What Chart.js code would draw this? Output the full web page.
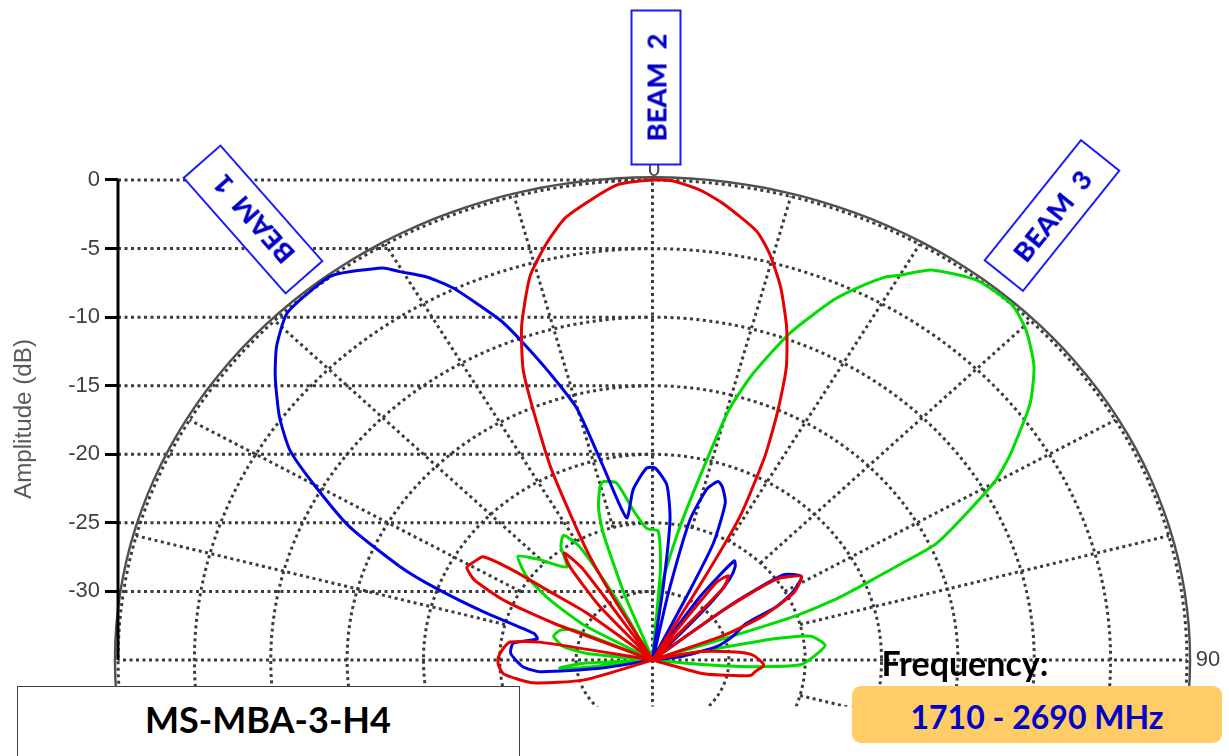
<!DOCTYPE html>
<html>
<head>
<meta charset="utf-8">
<script src="https://cdn.jsdelivr.net/npm/chart.js@4.4.1/dist/chart.umd.min.js"></script>
<style>
html,body{margin:0;padding:0;background:#fff;overflow:hidden;}
#stage{position:relative;width:1229px;height:756px;overflow:hidden;background:#fff;}
#chart{position:absolute;left:0;top:0;}
.lbl{position:absolute;display:flex;align-items:center;justify-content:center;white-space:pre;line-height:normal;}
.ax{font-family:"Liberation Sans",Arial,sans-serif;color:#404040;}
.beam{box-sizing:border-box;width:156px;height:51px;border:2.5px solid #1a1aff;background:#fff;color:#0000c8;font-family:Lato,sans-serif;font-weight:900;}
.bold{font-family:Lato,sans-serif;font-weight:bold;}
</style>
</head>
<body>
<div id="stage">
<canvas id="chart" width="1229" height="756"></canvas>
<div class="lbl ax" id="ytitle" data-fit="160" style="left:-77px;top:404px;width:200px;height:30px;font-size:24px;color:#595959;transform:rotate(-90deg);">Amplitude (dB)</div>
<div class="lbl ax" style="left:634px;top:154px;width:40px;height:30px;font-size:22px;">0</div>
<div class="lbl ax" style="left:1191px;top:644px;width:34px;height:30px;font-size:22px;">90</div>
<div class="lbl beam" data-fit="108" style="left:174.5px;top:194px;transform:rotate(-131.4deg);">BEAM  1</div>
<div class="lbl beam" data-fit="108" style="left:577.5px;top:62px;transform:rotate(-90deg);">BEAM  2</div>
<div class="lbl beam" data-fit="108" style="left:973.5px;top:190px;transform:rotate(-51.3deg);">BEAM  3</div>
<div style="position:absolute;left:17px;top:686px;width:503px;height:90px;box-sizing:border-box;border:1.5px solid #404040;background:#fff;"></div>
<div class="lbl bold" data-fit="246" style="left:118px;top:699px;width:300px;height:40px;color:#000;">MS-MBA-3-H4</div>
<div class="lbl bold" data-fit="167" style="left:865px;top:642px;width:200px;height:40px;color:#000;">Frequency:</div>
<div style="position:absolute;left:852px;top:686px;width:370px;height:57px;border-radius:9px;background:#ffcc66;"></div>
<div class="lbl bold" data-fit="253" style="left:887px;top:696px;width:300px;height:40px;color:#0000c8;">1710 - 2690 MHz</div>
</div>
<script>
// ---- data (angle in degrees, relative amplitude in dB) ----
const FLOOR_DB = -35;
const beam1Angles = [-106,-100,-96.6,-93.3,-87,-82.4,-78.5,-76,-72.4,-69.6,-67.6,-63.9,-59.9,-57.2,-54,-50.1,-47.1,-43.5,-40,-36.7,-31.7,-30.3,-27.9,-25.7,-21.9,-20.1,-17.8,-15.1,-12.9,-9.3,-5.8,-1.6,0.7,4.2,6.4,7.5,10,12,13.5,16,18.3,20,22.6,25.1,25.8,28,32,34,36.5,38.5,40.5,42.3,44,47,50,52,54.1,58,61.5,64.4,66.5,72,77,82,86];
const beam1Gain = [-35,-31.5,-27.6,-26.5,-25.7,-25.8,-27.3,-27,-23.4,-19.7,-17.1,-12.9,-9.3,-6.75,-4.8,-2.8,-1.4,-0.2,0,0,-1.4,-2.2,-3.4,-4.9,-8.3,-10.4,-13.05,-16,-20.5,-24.5,-22.5,-21,-21,-22.2,-24.7,-29.6,-35,-30,-24.5,-22,-21.3,-21.6,-22.6,-25.6,-29.9,-35,-35,-29.4,-26,-26.3,-27.2,-29.1,-33,-35,-35,-28.3,-24.4,-23.5,-24.5,-26,-28.3,-29.5,-30.7,-33,-35];
const beam2Angles = [-115,-108,-102,-96,-92,-89,-85,-82,-80,-77,-72,-67.5,-66,-63.5,-61,-58.5,-55.8,-54.5,-53.5,-51.5,-49,-44,-41.5,-38.5,-36.5,-34.5,-32,-29.5,-28.3,-25.5,-23.3,-21.8,-19.4,-16,-12.8,-9.9,-3.9,0,2.2,5.2,7.9,12.3,14.5,17.1,19.9,22.3,24.2,25.6,26.5,28.7,29.6,31,34,36.5,39,41.5,45,48,52,54,58,62,66,69,72,76,79,84,87,93,97,100,104,107,111];
const beam2Gain = [-35,-30.3,-27,-25.2,-24.9,-24.9,-25.2,-25.6,-27.5,-35,-35,-28,-24.5,-22,-21.1,-21.3,-21.6,-23.5,-26.5,-29.5,-35,-35,-29.8,-26.3,-25.3,-27,-35,-30,-25.9,-19.7,-15.4,-12.2,-9.2,-5.9,-3.8,-2.2,-0.3,0,-0.05,-0.6,-1.4,-3,-4.4,-6.5,-9.2,-11.9,-14.9,-17.2,-18.7,-23.1,-28.4,-35,-35,-28,-27.1,-28,-35,-35,-29,-25,-23.5,-24.5,-27,-30,-35,-35,-31.8,-29.5,-28.4,-27.7,-28.2,-28.5,-30.5,-31.7,-35];
const beam3Angles = [-100,-97,-95.5,-93,-90,-87,-83.6,-80.6,-75,-70.1,-67,-64,-60.6,-56.9,-53.6,-49.4,-45.3,-39.6,-36,-32.6,-30,-28,-25,-21,-20,-19.2,-17.6,-15.2,-13.9,-10.3,-6.6,-2.3,2.3,4.5,5.6,6.9,10.5,13.7,15.4,17.5,20.7,24.3,26.5,28.6,30,32.7,37.5,42.3,45.5,49.4,52.9,57.4,60,65.4,66.8,68.5,69.6,71.1,71.7,74,77.5,79,80.5,84.5,88,92.1,94.4,96,98];
const beam3Gain = [-35,-30,-28.9,-30.5,-35,-35,-30.7,-29.1,-28.3,-28.6,-29.4,-35,-30,-27,-24.8,-23.4,-24.6,-26.2,-24.8,-24.2,-25.5,-30,-35,-30,-27.5,-25.2,-23.3,-21.9,-21.6,-21.9,-24,-25.4,-25.6,-28.4,-35,-29.1,-25.1,-20,-16,-13.1,-9.5,-6.2,-4.6,-3.2,-2.6,-1.2,-0.1,0,-0.7,-2.1,-4,-7.2,-9.2,-14.5,-17.5,-20.4,-22,-25.25,-30.4,-35,-35,-27,-24.5,-23.65,-24.3,-25.3,-28.6,-32,-35];
const yTickValues = [0,-5,-10,-15,-20,-25,-30];
const ringLevels = [-30,-25,-20,-15,-10,-5,0];
const spokeAngles = [-180,-165,-150,-135,-120,-105,-90,-75,-60,-45,-30,-15,0,15,30,45,60,75,90,105,120,135,150,165];

// ---- fit label text widths ----
(function(){
  const m = document.createElement('canvas').getContext('2d');
  document.querySelectorAll('[data-fit]').forEach(el=>{
    const cs = getComputedStyle(el);
    m.font = cs.fontWeight + ' 100px ' + cs.fontFamily;
    const w = m.measureText(el.textContent).width;
    el.style.fontSize = (100*parseFloat(el.dataset.fit)/w).toFixed(2)+'px';
  });
})();

// ---- polar -> cartesian (chart units, centre at y = FLOOR_DB) ----
function polar(deg, db){
  const r = Math.max(0, db - FLOOR_DB);
  const t = deg*Math.PI/180;
  return {x: r*Math.sin(t), y: r*Math.cos(t) + FLOOR_DB};
}
const pts = (angles, gains) => angles.map((a,i)=>polar(a, gains[i]));
const circle = db => { const p=[]; for(let a=-180;a<=180;a+=2) p.push(polar(a,db)); return p; };

const GRID = '#3c3c3c';
const DOT = [3,3.5];
const GW = 3;
const gridClip = {left:6,top:10,right:6,bottom:0};
const datasets = [];
function curve(label, angles, gains, color, order){
  datasets.push({label, data: pts(angles,gains), showLine:true, borderColor:color, borderWidth:3,
    pointRadius:0, tension:0.2, fill:false, order, clip:gridClip, borderJoinStyle:'round'});
}
curve('BEAM 2', beam2Angles, beam2Gain, '#e60000', 1);
curve('BEAM 1', beam1Angles, beam1Gain, '#0000e6', 2);
curve('BEAM 3', beam3Angles, beam3Gain, '#00dd00', 3);

// axis line
datasets.push({data:[{x:FLOOR_DB, y:FLOOR_DB},{x:FLOOR_DB, y:yTickValues[0]}], showLine:true, borderColor:'#000', borderWidth:3, pointRadius:0, order:5, clip:gridClip});
// outer solid frame
datasets.push({data:circle(0.2), showLine:true, borderColor:'#505050', borderWidth:2.4, pointRadius:0, order:6, clip:gridClip});
// rings
ringLevels.forEach(lv=>datasets.push({data:circle(lv), showLine:true, borderColor:GRID, borderWidth:GW, borderDash:DOT, pointRadius:0, order:7, clip:gridClip}));
// spokes
const spk=[];
spokeAngles.forEach(a=>{
  const inner = (a%90===0) ? FLOOR_DB : ringLevels[1];
  spk.push(polar(a, inner), polar(a, 0), {x:0, y:null});
});
datasets.push({data:spk, showLine:true, borderColor:GRID, borderWidth:GW, borderDash:DOT, pointRadius:0, spanGaps:false, order:8, clip:gridClip});
// horizontal level lines from the axis to the centre
const hz=[];
yTickValues.forEach(v=>{ hz.push({x:FLOOR_DB, y:v},{x:0, y:v},{x:0, y:null}); });
datasets.push({data:hz, showLine:true, borderColor:GRID, borderWidth:GW, borderDash:DOT, pointRadius:0, spanGaps:false, order:9, clip:gridClip});

new Chart(document.getElementById('chart'), {
  type:'scatter',
  data:{datasets},
  options:{
    responsive:false, animation:false, devicePixelRatio:1,
    layout:{padding:{left:0,right:42,top:173.14,bottom:49.4}},
    plugins:{legend:{display:false}, tooltip:{enabled:false}},
    elements:{point:{radius:0}},
    scales:{
      x:{type:'linear', min:FLOOR_DB, max:-FLOOR_DB, display:false},
      y:{type:'linear', min:-38.4, max:0.5, position:'left',
         afterBuildTicks: s => { s.ticks = yTickValues.map(v=>({value:v})); },
         afterFit: s => { s.width = 118; },
         border:{display:false},
         grid:{drawOnChartArea:false, drawTicks:true, tickLength:13, tickWidth:3, tickColor:'#000'},
         ticks:{color:'#404040', font:{family:'Liberation Sans', size:22}, padding:5}
      }
    }
  }
});
</script>
</body>
</html>
